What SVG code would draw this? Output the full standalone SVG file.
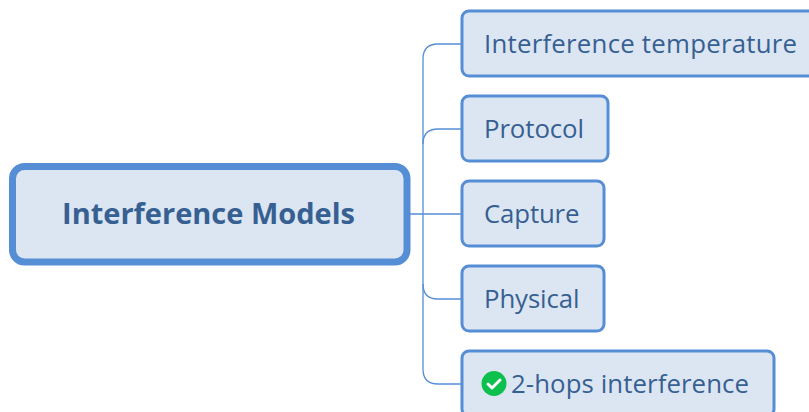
<svg xmlns="http://www.w3.org/2000/svg" width="809" height="412" viewBox="0 0 809 412">
<style>
.n{fill:#dce6f2;stroke:#558ed5;stroke-width:3}
.t{font-family:"Open Sans",sans-serif;font-size:25.800px;fill:#376092}
.c{fill:none;stroke:#558ed5;stroke-width:1.3}
</style>
<rect width="809" height="412" fill="#ffffff"/>
<g id="connectors">
<path class="c" d="M410 214H461"/>
<path class="c" d="M461 44H438Q423 44 423 59V369Q423 384 438 384H461"/>
<path class="c" d="M461 129H438Q423 129 423 144"/>
<path class="c" d="M461 299H438Q423 299 423 284"/>
</g>
<g id="root">
<rect x="12.500" y="166.500" width="394.500" height="95.500" rx="12" fill="#dce6f2" stroke="#558ed5" stroke-width="7"/>
<text x="208.500" y="224" text-anchor="middle" style="font-family:'Open Sans',sans-serif;font-size:29px;font-weight:700;fill:#376092">Interference Models</text>
</g>
<g id="n1"><rect class="n" x="462" y="11" width="360" height="65" rx="7"/><text class="t" x="484" y="53" textLength="313">Interference temperature</text></g>
<g id="n2"><rect class="n" x="462" y="96" width="146" height="65" rx="7"/><text class="t" x="484" y="138" textLength="100">Protocol</text></g>
<g id="n3"><rect class="n" x="462" y="181" width="142" height="65" rx="7"/><text class="t" x="484" y="223" textLength="95.500">Capture</text></g>
<g id="n4"><rect class="n" x="462" y="266" width="142" height="65" rx="7"/><text class="t" x="484" y="308" textLength="95.500">Physical</text></g>
<g id="n5"><rect class="n" x="462" y="351" width="312" height="65" rx="7"/>
<circle cx="494" cy="383.500" r="12.500" fill="#0cc04e"/>
<path d="M488 384L492 388L500 380" fill="none" stroke="#fff" stroke-width="3" stroke-linecap="round" stroke-linejoin="round"/>
<text class="t" x="511" y="393" textLength="238">2-hops interference</text></g>
</svg>
